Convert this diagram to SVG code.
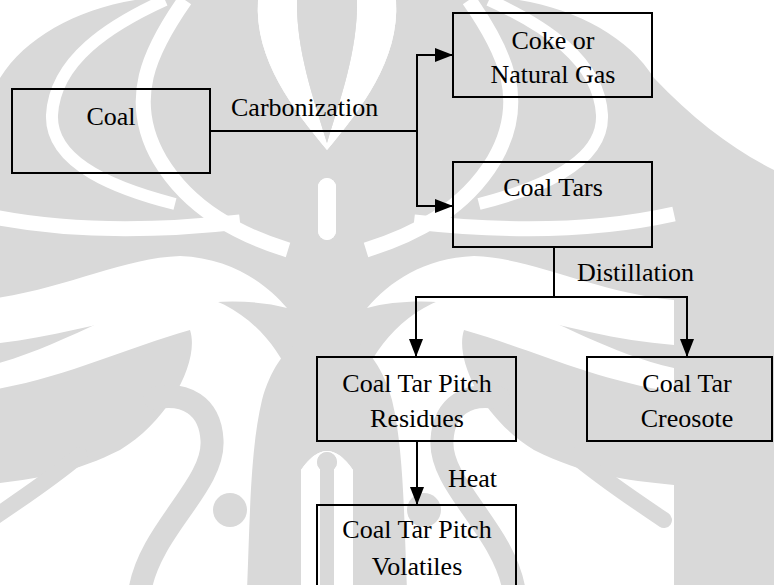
<svg xmlns="http://www.w3.org/2000/svg" xmlns:xlink="http://www.w3.org/1999/xlink" width="774" height="585" viewBox="0 0 774 585">
<defs>
<marker id="ah" viewBox="0 0 18 14" refX="18" refY="7" markerWidth="18" markerHeight="14" markerUnits="userSpaceOnUse" orient="auto">
<path d="M0,0 L18,7 L0,14 Z" fill="#000"/>
</marker>
<style>
.box{fill:none;stroke:#000;stroke-width:2}
.t{font-family:"Liberation Serif","Times New Roman",serif;font-size:26px;fill:#000}
.m{text-anchor:middle}
.c{fill:none;stroke:#000;stroke-width:2}
.w{fill:#fff}
.ws{fill:none;stroke:#fff}
.g{fill:#d9d9d9}
.gs{fill:none;stroke:#d9d9d9;stroke-linecap:round}
</style>
<g id="wmWhite">
<path class="w" d="M-120,0 H135 C75,10 25,38 0,78 C-40,120 -80,150 -120,170 Z"/>
<path class="ws" stroke-width="12" d="M165,0 C110,25 55,60 52,115 C50,165 120,190 175,204"/>
<path class="ws" stroke-width="15" d="M185,0 C150,50 125,100 160,160 C190,210 240,235 288,250"/>
<path class="ws" stroke-width="15" d="M-20,214 C60,232 150,232 240,222"/>
<path class="w" d="M258,0 H396 C400,60 360,110 327,150 C294,110 254,60 258,0 Z"/>
<path class="w" d="M-20,300 C60,292 120,258 180,256 C230,258 265,282 287,308 C250,298 200,300 150,312 C90,326 40,340 -20,345 Z"/>
<path class="w" d="M-20,368 C60,350 130,300 183,292 C240,300 275,340 292,380 L300,585 H-20 Z"/>
<rect class="w" x="318" y="178" width="18" height="62" rx="9"/>
<path class="w" d="M301,590 V470 Q327,432 353,470 V590 Z"/>
</g>
<g id="wmGray">
<path class="g" d="M297,0 H357 C358,50 340,100 327,143 C314,100 296,50 297,0 Z"/>
<path class="g" d="M-20,392 C60,380 120,350 190,330 C200,360 170,420 120,450 C70,475 30,480 -20,485 Z"/>
<path class="gs" stroke-width="16" d="M-10,520 C20,500 50,480 80,455"/>
<path class="gs" stroke-width="23" d="M140,590 C150,530 215,485 212,440 C210,405 185,392 155,398"/>
<circle class="g" cx="230" cy="510" r="17"/>
<path class="g" d="M247,590 C250,520 250,450 262,400 C270,370 285,350 300,340 L300,590 Z"/>
<rect class="g" x="300" y="240" width="54" height="205"/>
<path class="g" d="M320,590 V462 A7,7 0 0 1 334,462 V590 Z"/>
<circle class="g" cx="327" cy="462" r="10"/>
</g>
</defs>
<g id="watermark">
<rect width="774" height="585" fill="#d9d9d9"/>
<use xlink:href="#wmWhite"/>
<use xlink:href="#wmWhite" transform="matrix(-1,0,0,1,654,0)"/>
<use xlink:href="#wmGray"/>
<use xlink:href="#wmGray" transform="matrix(-1,0,0,1,654,0)"/>
</g>
<g id="coal"><rect class="box" x="12" y="89" width="198" height="84"/><text class="t m" x="111" y="125">Coal</text></g>
<g id="coke"><rect class="box" x="453" y="13" width="199" height="84"/><text class="t m" x="553" y="49">Coke or</text><text class="t m" x="553" y="83">Natural Gas</text></g>
<g id="tars"><rect class="box" x="453" y="162" width="199" height="85"/><text class="t m" x="553" y="196">Coal Tars</text></g>
<g id="residues"><rect class="box" x="317" y="357" width="199" height="84"/><text class="t m" x="417" y="392">Coal Tar Pitch</text><text class="t m" x="417" y="427">Residues</text></g>
<g id="creosote"><rect class="box" x="587" y="357" width="185" height="84"/><text class="t m" x="687" y="392">Coal Tar</text><text class="t m" x="687" y="427">Creosote</text></g>
<g id="volatiles"><rect class="box" x="317" y="505" width="199" height="90"/><text class="t m" x="417" y="538">Coal Tar Pitch</text><text class="t m" x="417" y="575">Volatiles</text></g>
<g id="connectors">
<path class="c" d="M210,131 H417"/>
<path class="c" d="M417,206 V55 H453" marker-end="url(#ah)"/>
<path class="c" d="M417,131 V206 H453" marker-end="url(#ah)"/>
<path class="c" d="M554,247 V297"/>
<path class="c" d="M554,297 H416 V357" marker-end="url(#ah)"/>
<path class="c" d="M554,297 H687 V357" marker-end="url(#ah)"/>
<path class="c" d="M417,441 V505" marker-end="url(#ah)"/>
<text class="t" x="231" y="116">Carbonization</text>
<text class="t" x="577" y="281">Distillation</text>
<text class="t" x="448" y="487">Heat</text>
</g>
</svg>
